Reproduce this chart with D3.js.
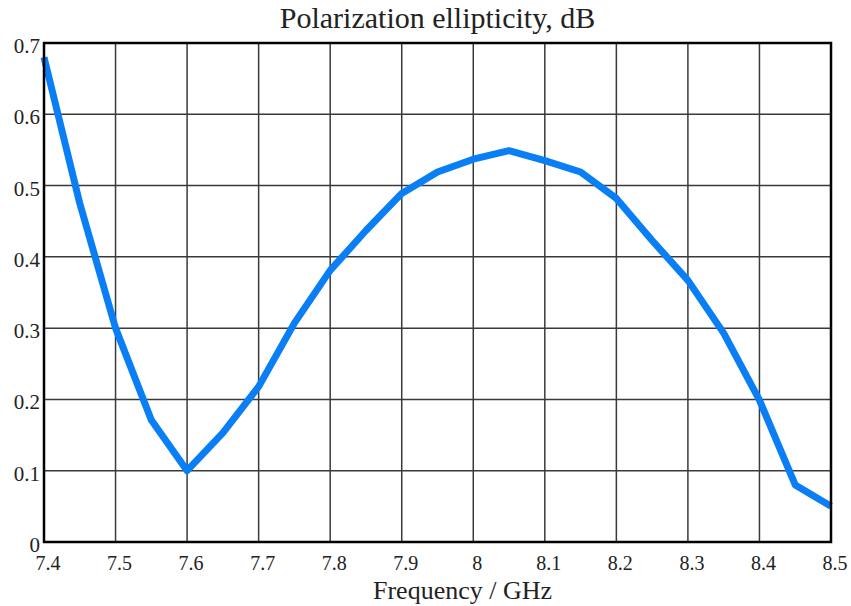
<!DOCTYPE html>
<meta charset="utf-8">
<title>Polarization ellipticity</title>
<style>
body { margin: 0; background: #fff; }
text { font-family: "Liberation Serif", "Times New Roman", serif; fill: #222; }
.grid line { stroke: #3a3a3a; stroke-width: 1.5; }
</style>
<body>
<script src="https://d3js.org/d3.v7.min.js"></script>
<script>

// data
var freq = [7.40, 7.45, 7.50, 7.55, 7.60, 7.65, 7.70, 7.75, 7.80, 7.85, 7.90, 7.95,
            8.00, 8.05, 8.10, 8.15, 8.20, 8.25, 8.30, 8.35, 8.40, 8.45, 8.50];
var ellipticity = [0.680, 0.475, 0.300, 0.171, 0.100, 0.153, 0.218, 0.307, 0.381, 0.437, 0.489, 0.519,
                   0.537, 0.549, 0.535, 0.519, 0.482, 0.423, 0.367, 0.293, 0.199, 0.080, 0.050];
var xTicks = [7.4, 7.5, 7.6, 7.7, 7.8, 7.9, 8, 8.1, 8.2, 8.3, 8.4, 8.5];
var yTicks = [0, 0.1, 0.2, 0.3, 0.4, 0.5, 0.6, 0.7];

var width = 851, height = 606;
var margin = {top: 43, right: 20, bottom: 64, left: 44};

var svg = d3.select("body").append("svg")
    .attr("width", width)
    .attr("height", height);

var x = d3.scaleLinear().domain([7.4, 8.5]).range([margin.left, width - margin.right]);
var y = d3.scaleLinear().domain([0, 0.7]).range([height - margin.bottom, margin.top]);

// grid
var grid = svg.append("g").attr("class", "grid");
grid.selectAll(".gx").data(xTicks).enter().append("line")
    .attr("x1", d => x(d)).attr("x2", d => x(d))
    .attr("y1", y(0)).attr("y2", y(0.7));
grid.selectAll(".gy").data(yTicks).enter().append("line")
    .attr("x1", x(7.4)).attr("x2", x(8.5))
    .attr("y1", d => y(d)).attr("y2", d => y(d));

// curve
var line = d3.line()
    .x((d, i) => x(freq[i]))
    .y(d => y(d));

svg.append("path")
    .datum(ellipticity)
    .attr("d", line)
    .attr("fill", "none")
    .attr("stroke", "#0a7ff5")
    .attr("stroke-width", 7)
    .attr("stroke-linejoin", "round");

// frame
svg.append("rect")
    .attr("x", x(7.4)).attr("y", y(0.7))
    .attr("width", x(8.5) - x(7.4))
    .attr("height", y(0) - y(0.7))
    .attr("fill", "none")
    .attr("stroke", "#000")
    .attr("stroke-width", 2.5);

// tick labels
svg.append("g").selectAll("text").data(xTicks).enter().append("text")
    .attr("x", d => x(d) + 4)
    .attr("y", y(0) + 28)
    .attr("text-anchor", "middle")
    .style("font-size", "20px")
    .text(d => d3.format("")(d));

svg.append("g").selectAll("text").data(yTicks).enter().append("text")
    .attr("x", x(7.4) - 4)
    .attr("y", d => y(d) + 10)
    .attr("text-anchor", "end")
    .style("font-size", "21px")
    .text(d => d3.format("")(d));

// titles
svg.append("text")
    .attr("x", (x(7.4) + x(8.5)) / 2)
    .attr("y", 28)
    .attr("text-anchor", "middle")
    .style("font-size", "30px")
    .text("Polarization ellipticity, dB");

svg.append("text")
    .attr("x", (x(7.4) + x(8.5)) / 2 + 25)
    .attr("y", 599)
    .attr("text-anchor", "middle")
    .style("font-size", "26px")
    .text("Frequency / GHz");

</script>
</body>
